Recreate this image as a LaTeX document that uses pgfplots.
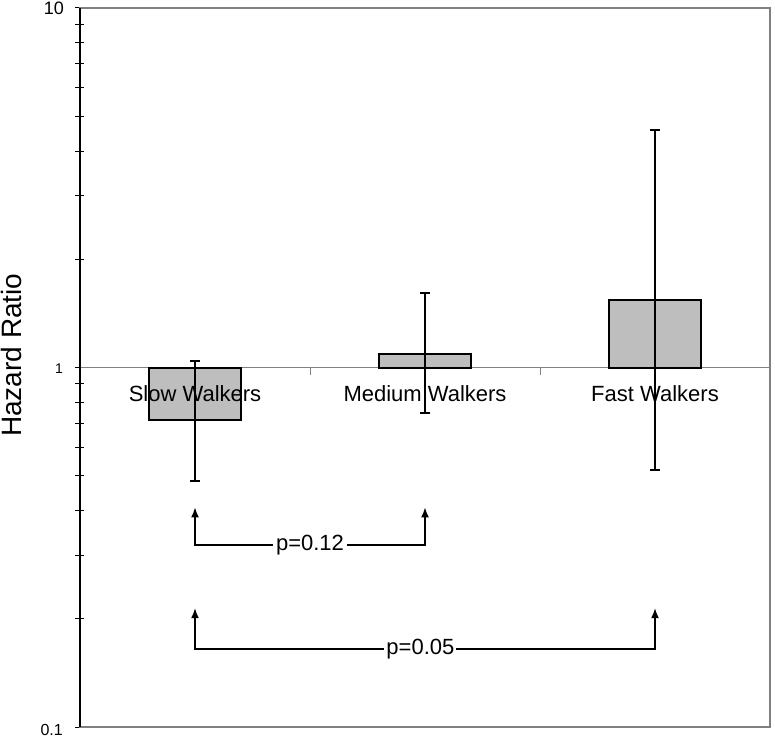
\documentclass[border=0pt]{standalone}
\usepackage{fontspec}
\setmainfont{Liberation Sans}
\usepackage{pgfplots}
\pgfplotsset{compat=1.18}
\usetikzlibrary{arrows.meta}
\definecolor{barfill}{HTML}{BEBEBE}
\definecolor{framegray}{HTML}{808080}
\begin{document}
\begin{tikzpicture}
\useasboundingbox (-80pt,-12pt) rectangle (695pt,727pt);
\begin{axis}[
  at={(0pt,0pt)}, anchor=south west,
  scale only axis, width=690pt, height=719pt,
  ymode=log, ymin=0.1, ymax=10, log origin=0,
  xmin=-0.5, xmax=2.5,
  xtick=\empty,
  ytick={0.1,1,10},
  yticklabels={},
  ytick pos=left,
  tick align=center,
  major tick length=10pt, minor tick length=9pt,
  tick style={black, line width=1pt},
  axis line style={framegray, line width=1.2pt},
  ylabel={Hazard Ratio},
  ylabel style={font=\fontsize{28}{33}\selectfont, at={(axis description cs:-0.0993,0.517)}, anchor=center},
  clip=false,
]
% reference line at HR = 1
\addplot[framegray, line width=1.2pt, forget plot] coordinates {(-0.5,1) (2.5,1)};
% bars
\addplot[ybar, bar width=0.4, fill=barfill, draw=black, line width=2pt] coordinates {(0,0.714) (1,1.09) (2,1.54)};
% category labels
\addplot[draw=none, mark=none, nodes near coords, point meta=explicit symbolic,
  every node near coord/.append style={anchor=base, font=\fontsize{22}{26}\selectfont, inner sep=0pt}]
  coordinates {(0,0.802)[Slow Walkers] (1,0.802)[Medium Walkers] (2,0.802)[Fast Walkers]};
% confidence intervals
\addplot[black, line width=1.8pt, mark=-, mark size=5pt, mark options={solid, line width=1.8pt}] coordinates {(0,0.483) (0,1.04)};
\addplot[black, line width=1.8pt, mark=-, mark size=5pt, mark options={solid, line width=1.8pt}] coordinates {(1,0.747) (1,1.61)};
\addplot[black, line width=1.8pt, mark=-, mark size=5pt, mark options={solid, line width=1.8pt}] coordinates {(2,0.519) (2,4.58)};
% ticks on the HR=1 line
\draw[framegray, line width=1pt] (axis cs:0.5,1) -- ([yshift=-7pt]axis cs:0.5,1);
\draw[framegray, line width=1pt] (axis cs:1.5,1) -- ([yshift=-7pt]axis cs:1.5,1);
% left axis line in black
\draw[black, line width=2pt] (rel axis cs:0,0) -- (rel axis cs:0,1);
% y tick labels
\node[anchor=east, inner sep=0pt, font=\fontsize{18}{21}\selectfont] at ([xshift=-16pt]rel axis cs:0,1) {10};
\node[anchor=east, inner sep=0pt, font=\fontsize{14}{17}\selectfont] at ([xshift=-17pt,yshift=-1pt]axis cs:-0.5,1) {1};
\node[anchor=east, inner sep=0pt, font=\fontsize{16}{19}\selectfont] at ([xshift=-17pt,yshift=-2.5pt]rel axis cs:0,0) {0.1};
% comparison arrows
\draw[line width=1.4pt, -{Latex[length=10pt,width=8pt]}] (axis cs:0.5,0.321) -| (axis cs:0,0.408);
\draw[line width=1.4pt, -{Latex[length=10pt,width=8pt]}] (axis cs:0.5,0.321) -| (axis cs:1,0.408);
\node[fill=white, font=\fontsize{22}{26}\selectfont, inner sep=3pt] at (axis cs:0.5,0.321) {p=0.12};
\draw[line width=1.4pt, -{Latex[length=10pt,width=8pt]}] (axis cs:0.98,0.165) -| (axis cs:0,0.214);
\draw[line width=1.4pt, -{Latex[length=10pt,width=8pt]}] (axis cs:0.98,0.165) -| (axis cs:2,0.214);
\node[fill=white, font=\fontsize{22}{26}\selectfont, inner sep=2pt] at (axis cs:0.98,0.165) {p=0.05};
\end{axis}
\end{tikzpicture}
\end{document}
